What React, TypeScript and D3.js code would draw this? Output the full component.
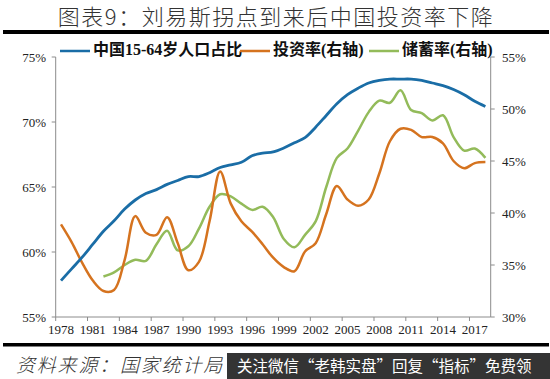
import React from "react";
import * as d3 from "d3";

const years: number[] = d3.range(1978, 2019);
const tickYears: number[] = d3.range(1978, 2019, 3);

// 中国15-64岁人口占比 (left axis, %)
const popShare: number[] = [
  57.8, 58.7, 59.6, 60.6, 61.6, 62.4, 63.3, 64.0, 64.5, 64.8,
  65.2, 65.5, 65.8, 65.8, 66.1, 66.5, 66.7, 66.9, 67.4, 67.6,
  67.7, 68.0, 68.4, 68.8, 69.6, 70.5, 71.4, 72.1, 72.6, 73.0,
  73.2, 73.3, 73.3, 73.3, 73.2, 73.0, 72.8, 72.5, 72.1, 71.6, 71.2,
];

// 投资率 (right axis, %)
const investRate: number[] = [
  38.9, 37.2, 35.2, 33.5, 32.5, 32.6, 35.5, 39.7, 38.1, 37.9,
  39.6, 37.1, 34.5, 35.3, 39.2, 44.0, 40.9, 39.2, 38.2, 37.0,
  35.7, 34.8, 34.4, 36.3, 37.1, 39.9, 42.6, 41.3, 40.7, 41.3,
  43.8, 46.9, 48.1, 48.0, 47.3, 47.3, 46.7, 45.0, 44.3, 44.8, 44.9,
];

// 储蓄率 (right axis, %), from 1982
const savingYears: number[] = d3.range(1982, 2019);
const savingRate: number[] = [
  33.9, 34.3, 35.0, 35.5, 35.4, 37.0, 38.3, 36.4, 36.8, 38.5,
  40.6, 41.8, 41.6, 40.9, 40.3, 40.6, 39.6, 37.5, 36.7, 37.9,
  39.2, 42.5, 45.3, 46.2, 47.9, 49.7, 50.8, 50.6, 51.8, 49.9,
  49.6, 48.9, 49.4, 47.3, 46.0, 46.2, 45.3,
];

const leftTicks: number[] = [55, 60, 65, 70, 75];
const rightTicks: number[] = [30, 35, 40, 45, 50, 55];

const BLUE = "#1a6da6";
const ORANGE = "#d5731f";
const GREEN = "#93bb5a";
const AXIS = "#8c8c8c";

export default function App() {
  const left = 55.7, right = 490.7, top = 57, bottom = 317;
  const x = d3.scaleBand<number>().domain(years).range([left, right]).padding(0);
  const bw = x.bandwidth();
  const cx = (yr: number) => (x(yr) as number) + bw / 2;
  const yL = d3.scaleLinear().domain([55, 75]).range([bottom, top]);
  const yR = d3.scaleLinear().domain([30, 55]).range([bottom, top]);

  const curve = d3.curveCatmullRom.alpha(0.5);
  const popLine = d3.line<number>().x((_, i) => cx(years[i])).y((d) => yL(d)).curve(curve);
  const invLine = d3.line<number>().x((_, i) => cx(years[i])).y((d) => yR(d)).curve(curve);
  const savLine = d3.line<number>().x((_, i) => cx(savingYears[i])).y((d) => yR(d)).curve(curve);

  const serif = "'Liberation Serif', 'Times New Roman', serif";
  const cjk = "'Liberation Serif', 'Noto Sans CJK SC', serif";

  const boundaryTicks = d3.range(0, years.length, 3).map((k) => left + k * bw);

  return (
    <div style={{ position: "absolute", left: 0, top: 0 }}>
      <svg width={550} height={379} style={{ display: "block", background: "#fff" }}>
        <text x={276} y={25} textAnchor="middle" fontFamily="'Noto Sans CJK SC', sans-serif"
          fontSize={22} fontWeight={300} fill="#333" letterSpacing={1.5}>
          图表9：刘易斯拐点到来后中国投资率下降
        </text>
        <rect x={3} y={30} width={546} height={4} fill="#000" />

        {/* legend */}
        <g fontFamily={cjk} fontWeight="bold" fontSize={16} fill="#111">
          <line x1={60} x2={90} y1={51} y2={51} stroke={BLUE} strokeWidth={2.5} />
          <text x={93} y={55}>中国15-64岁人口占比</text>
          <line x1={240} x2={270} y1={51} y2={51} stroke={ORANGE} strokeWidth={2.5} />
          <text x={273} y={55}>投资率(右轴)</text>
          <line x1={369} x2={399} y1={51} y2={51} stroke={GREEN} strokeWidth={2.5} />
          <text x={402} y={55}>储蓄率(右轴)</text>
        </g>

        {/* axes */}
        <g stroke={AXIS} strokeWidth={1} fill="none">
          <line x1={left} x2={left} y1={top} y2={bottom} />
          <line x1={right} x2={right} y1={top} y2={bottom} />
          <line x1={left} x2={right} y1={bottom} y2={bottom} />
          {leftTicks.map((t) => (
            <line key={"lt" + t} x1={left - 4} x2={left} y1={yL(t)} y2={yL(t)} />
          ))}
          {rightTicks.map((t) => (
            <line key={"rt" + t} x1={right} x2={right + 4} y1={yR(t)} y2={yR(t)} />
          ))}
          {boundaryTicks.map((bx, i) => (
            <line key={"xt" + i} x1={bx} x2={bx} y1={bottom} y2={bottom + 4} />
          ))}
        </g>
        <g fontFamily={serif} fontSize={13} fill="#222">
          {leftTicks.map((t) => (
            <text key={"ll" + t} x={46} y={yL(t) + 4.5} textAnchor="end">{t}%</text>
          ))}
          {rightTicks.map((t) => (
            <text key={"rl" + t} x={502} y={yR(t) + 4.5}>{t}%</text>
          ))}
          {tickYears.map((yr) => (
            <text key={"xl" + yr} x={cx(yr)} y={334} textAnchor="middle">{yr}</text>
          ))}
        </g>

        {/* series */}
        <path d={savLine(savingRate) || ""} fill="none" stroke={GREEN} strokeWidth={2.5} />
        <path d={invLine(investRate) || ""} fill="none" stroke={ORANGE} strokeWidth={2.5} />
        <path d={popLine(popShare) || ""} fill="none" stroke={BLUE} strokeWidth={2.8} />

        <rect x={3} y={343} width={546} height={3.5} fill="#000" />
        <text x={16} y={372} fontFamily="'Noto Sans CJK SC', sans-serif" fontSize={19}
          fontStyle="italic" fill="#333" fontWeight={300} letterSpacing={1.8}>
          资料来源：国家统计局
        </text>
        <rect x={227} y={353} width={323} height={26} fill="#1e1e1e" opacity={0.9} />
        <text x={237} y={372} fontFamily="'Noto Sans CJK SC', sans-serif" fontSize={15.5} fill="#fff">
          关注微信“老韩实盘”回复“指标”免费领
        </text>
      </svg>
    </div>
  );
}
